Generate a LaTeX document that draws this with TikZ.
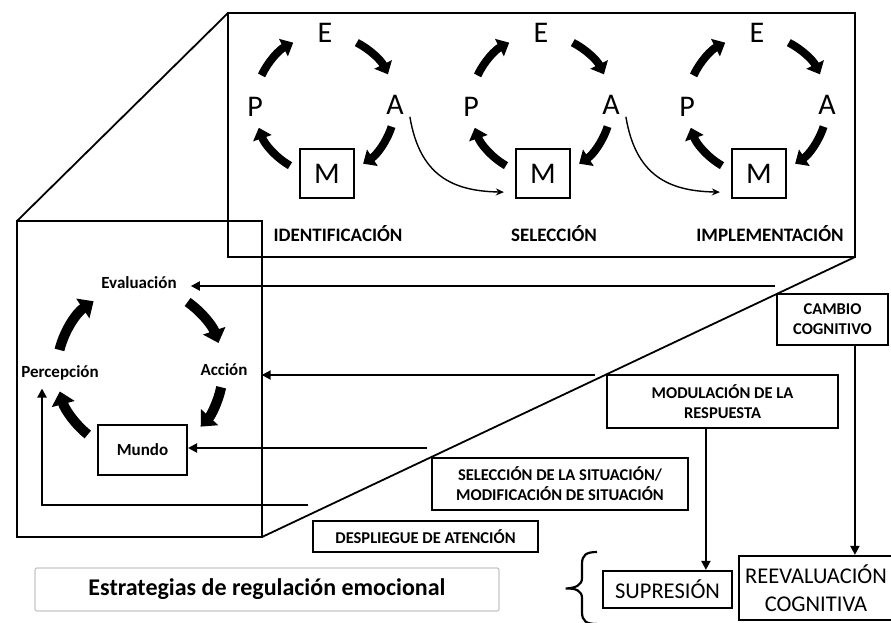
\documentclass[tikz,border=0pt]{standalone}
\usepackage{fontspec}
\setmainfont{Carlito}
\usetikzlibrary{arrows.meta,positioning,calc}

\tikzset{
  framebox/.style={draw, line width=2.2pt, inner sep=0pt, align=center},
  sidebox/.style={framebox, font=\fontsize{16.5}{20}\selectfont\bfseries},
  endbox/.style={framebox, font=\fontsize{22.5}{28}\selectfont},
  conn/.style={line width=2pt, -{Triangle[length=9pt,width=9pt]}},
  thinarrow/.style={line width=1.4pt, -{Stealth[length=8pt,width=7pt]}},
  bigarc/.style={line width=10pt, -{Triangle[length=13pt,width=23pt]}},
  smallarc/.style={line width=8pt, -{Triangle[length=11pt,width=19pt]}},
  letter/.style={font=\fontsize{30}{30}\selectfont, inner sep=0pt},
  stagelabel/.style={font=\fontsize{19}{19}\selectfont\bfseries},
  cyclelabel/.style={font=\fontsize{17}{17}\selectfont\bfseries, inner xsep=14pt, inner ysep=8pt},
}

\begin{document}
\begin{tikzpicture}[x=1pt, y=-1pt]
\useasboundingbox (0,0) rectangle (891,622);
\clip (0,0) rectangle (891,622);

% zoom frames
\draw[line width=2.2pt] (228,13) rectangle (855,257);
\draw[line width=2.2pt] (17,221) rectangle (262,537);
\draw[line width=1.8pt] (17,221) -- (228,13);
\draw[line width=1.8pt] (262,537) -- (855,257);

% small cycles in the top frame
\foreach \txt [count=\i from 0] in {IDENTIFICACIÓN, SELECCIÓN, IMPLEMENTACIÓN} {
  \begin{scope}[xshift=\i*216pt]
    \node[letter] (E\i) at (325,33) {E};
    \node[letter] (P\i) at (255,107) {P};
    \node[letter] (A\i) at (395,105) {A};
    \node[framebox, letter, minimum width=54pt, minimum height=49pt] (M\i) at (327,173.5) {M};
    \node[stagelabel] (stage\i) at (338,234) {\txt};
    \draw[smallarc] (325,105) ++(-155:70) arc[start angle=-155, end angle=-117, radius=70];
    \draw[smallarc] (325,105) ++(-63:70) arc[start angle=-63, end angle=-26, radius=70];
    \draw[smallarc] (325,105) ++(18:70) arc[start angle=18, end angle=57, radius=70];
    \draw[smallarc] (325,105) ++(-240:70) arc[start angle=-240, end angle=-199, radius=70];
  \end{scope}
}
\draw[thinarrow] ($(A0.south east)+(6,2)$) .. controls +(10,60) and +(-50,-1) .. ($(M1.south west)+(-11,-7)$);
\draw[thinarrow] ($(A1.south east)+(6,2)$) .. controls +(10,60) and +(-50,-1) .. ($(M2.south west)+(-11,-7)$);

% big cycle in the left frame
\node[cyclelabel] (evaluacion) at (139,283) {Evaluación};
\node[cyclelabel] (accion) at (224,370) {Acción};
\node[cyclelabel] (percepcion) at (60,373) {Percepción};
\node[framebox, line width=2pt, font=\fontsize{17}{17}\selectfont\bfseries, minimum width=89pt, minimum height=50pt] (mundo) at (142.5,450) {Mundo};
\draw[bigarc] (140,370) ++(-166:83) arc[start angle=-166, end angle=-124, radius=83];
\draw[bigarc] (140,370) ++(-55:83) arc[start angle=-55, end angle=-19, radius=83];
\draw[bigarc] (140,370) ++(12:83) arc[start angle=12, end angle=43, radius=83];
\draw[bigarc] (140,370) ++(-231:83) arc[start angle=-231, end angle=-195, radius=83];

% strategy boxes
\node[sidebox, minimum width=111pt, minimum height=51pt] (cambio) at (832.5,319.5) {CAMBIO\\COGNITIVO};
\node[sidebox, minimum width=231pt, minimum height=53pt] (modulacion) at (722.5,401.5) {MODULACIÓN DE LA\\RESPUESTA};
\node[sidebox, minimum width=256pt, minimum height=52pt] (seleccion) at (560,484) {SELECCIÓN DE LA SITUACIÓN/\\MODIFICACIÓN DE SITUACIÓN};
\node[sidebox, minimum width=225pt, minimum height=31pt] (despliegue) at (425.5,536.5) {DESPLIEGUE DE ATENCIÓN};
\node[endbox, minimum width=129pt, minimum height=37pt] (supresion) at (667.5,589.5) {SUPRESIÓN};
\node[endbox, minimum width=154pt, minimum height=64pt] (reevaluacion) at (816,588) {REEVALUACIÓN\\COGNITIVA};
\node[draw=gray!45, line width=1.2pt, rounded corners=2pt, minimum width=464pt, minimum height=43pt,
  font=\fontsize{24}{24}\selectfont\bfseries] (estrategias) at (267,589.5) {Estrategias de regulación emocional};

% connectors into the cycle
\coordinate (evalfrom) at (775,286);
\coordinate (accfrom) at (595,375);
\coordinate (mundofrom) at (427,448);
\coordinate (percfrom) at (308,505);
\draw[conn] (evalfrom) -- (evalfrom -| evaluacion.east);
\draw[conn] (accfrom) -- (accfrom -| accion.east);
\draw[conn] (mundofrom) -- (mundofrom -| mundo.east);
\draw[conn] (percfrom) -| ($(percepcion.south)+(-18,0)$);

% down to the two end strategies
\coordinate (modfoot) at ($(modulacion.south west)+(100,0)$);
\coordinate (camfoot) at ($(cambio.south west)+(79,0)$);
\draw[conn] (modfoot) -- (modfoot |- supresion.north);
\draw[conn] (camfoot) -- (camfoot |- reevaluacion.north);

% brace
\coordinate (bracetip) at ($(estrategias.east)+(66,-1)$);
\draw[line width=2.2pt] (597,552) .. controls (586,552) and (582,555) .. (582,564) -- (582,578)
  .. controls (582,585) and (576,588) .. (bracetip)
  .. controls (576,588) and (582,591) .. (582,598) -- (582,612)
  .. controls (582,621) and (586,624) .. (597,624);
\end{tikzpicture}
\end{document}
